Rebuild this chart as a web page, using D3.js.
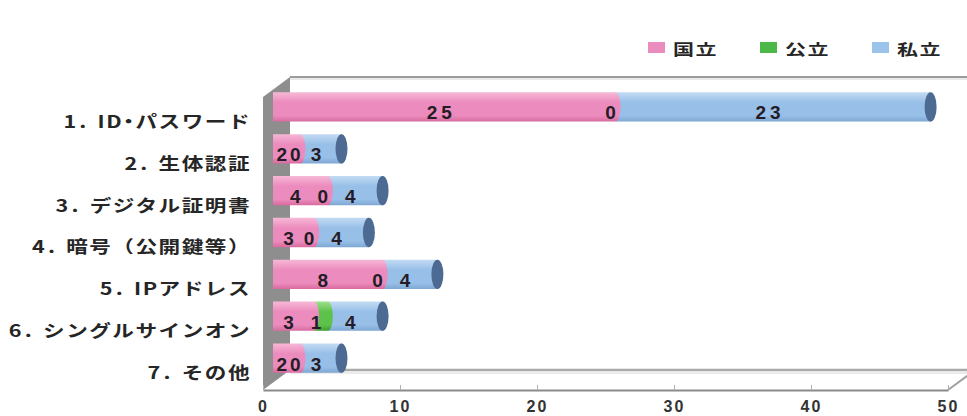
<!DOCTYPE html>
<html>
<head>
<meta charset="utf-8">
<script src="https://cdn.jsdelivr.net/npm/d3@7"></script>
<style>
  html, body { margin: 0; padding: 0; background: #ffffff; }
  svg { display: block; }
  .palt { font-feature-settings: "palt" 1; }
</style>
</head>
<body>
<svg id="chart" width="967" height="416"></svg>
<script>
// 認証方式の利用状況（設置者別の件数）
const categories = [
  "1. ID・パスワード",
  "2. 生体認証",
  "3. デジタル証明書",
  "4. 暗号（公開鍵等）",
  "5. IPアドレス",
  "6. シングルサインオン",
  "7. その他"
];
const seriesNames = ["国立", "公立", "私立"];
const national = [25, 2, 4, 3, 8, 3, 2];
const publicInst = [0, 0, 0, 0, 0, 1, 0];
const privateInst = [23, 3, 4, 4, 4, 4, 3];
const tickValues = [0, 10, 20, 30, 40, 50];

const seriesColors = {
  "国立": { light: "#f6b8d6", mid: "#ec8bbd", dark: "#d86a9f", legend: "#ea8cbe", cap: "#b45a86" },
  "公立": { light: "#9ee08a", mid: "#5cc24a", dark: "#3c9a32", legend: "#4cb848", cap: "#2f7a28" },
  "私立": { light: "#c3dbf3", mid: "#97bfe8", dark: "#7ea7d3", legend: "#9cc3ea", cap: "#4c6a92" }
};

const rows = categories.map((c, i) => ({
  category: c,
  "国立": national[i],
  "公立": publicInst[i],
  "私立": privateInst[i]
}));

const svg = d3.select("#chart");
const defs = svg.append("defs");

// front plane of the 3-D box
const x = d3.scaleLinear().domain([0, 50]).range([263, 948]);
const floorY = 390;
const depth = { dx: 27, dy: -20 };     // front -> back wall offset
const barShift = 10;                   // bars sit part-way into the box
const y = d3.scaleBand().domain(categories).range([86, 379])
  .paddingInner(0.3).paddingOuter(0.15);

// gradients for the cylinder bodies
seriesNames.forEach((s, i) => {
  const g = defs.append("linearGradient").attr("id", "grad" + i)
    .attr("x1", 0).attr("y1", 0).attr("x2", 0).attr("y2", 1);
  const c = seriesColors[s];
  g.append("stop").attr("offset", "0%").attr("stop-color", c.light);
  g.append("stop").attr("offset", "35%").attr("stop-color", c.mid);
  g.append("stop").attr("offset", "80%").attr("stop-color", c.mid);
  g.append("stop").attr("offset", "100%").attr("stop-color", c.dark);
});

// ---- box: floor, left wall, back edge ----
const backX0 = x(0) + depth.dx;
const backX1 = x(50) + depth.dx;
const backFloorY = floorY + depth.dy;
const topY = 77;

svg.append("polygon")
  .attr("points", [[x(0), floorY], [x(50), floorY], [backX1, backFloorY], [backX0, backFloorY]].join(" "))
  .attr("fill", "#ffffff");

svg.append("line")
  .attr("x1", backX0).attr("y1", topY).attr("x2", 980).attr("y2", topY)
  .attr("stroke", "#9c9c9c").attr("stroke-width", 2);
svg.append("line")
  .attr("x1", backX0).attr("y1", topY + 2).attr("x2", 980).attr("y2", topY + 2)
  .attr("stroke", "#e2e2e2").attr("stroke-width", 1.5);

svg.append("line")
  .attr("x1", backX0).attr("y1", backFloorY).attr("x2", backX1).attr("y2", backFloorY)
  .attr("stroke", "#a9a9a9").attr("stroke-width", 2.5);
svg.append("line")
  .attr("x1", backX0).attr("y1", backFloorY + 3).attr("x2", backX1).attr("y2", backFloorY + 3)
  .attr("stroke", "#e4e4e4").attr("stroke-width", 1.5);
svg.append("line")
  .attr("x1", x(50)).attr("y1", floorY).attr("x2", backX1).attr("y2", backFloorY)
  .attr("stroke", "#a0a0a0").attr("stroke-width", 2);

svg.append("polygon")
  .attr("points", [[x(0), topY - depth.dy], [backX0, topY], [backX0, backFloorY], [x(0), floorY]].join(" "))
  .attr("fill", "#8e8e8e");

// ---- stacked cylinders ----
const stack = d3.stack().keys(seriesNames);
const layers = stack(rows);
const rx = 5;
const xb = v => x(v) + barShift;

const bars = svg.append("g");
categories.forEach((cat, ci) => {
  const top = y(cat);
  const h = y.bandwidth();
  const g = bars.append("g");
  // right-most segment first so each boundary bulges over its neighbour
  for (let si = seriesNames.length - 1; si >= 0; si--) {
    const seg = layers[si][ci];
    if (seg[1] - seg[0] <= 0) continue;
    const x0 = xb(seg[0]), x1 = xb(seg[1]);
    g.append("path")
      .attr("d", `M${x0},${top} L${x1},${top} A${rx},${h / 2} 0 0 1 ${x1},${top + h} L${x0},${top + h} Z`)
      .attr("fill", `url(#grad${si})`);
  }
  // visible end face of the cylinder
  let lastSi = seriesNames.length - 1;
  while (lastSi > 0 && layers[lastSi][ci][1] - layers[lastSi][ci][0] <= 0) lastSi--;
  const end = layers[lastSi][ci][1];
  g.append("ellipse")
    .attr("cx", xb(end)).attr("cy", top + h / 2)
    .attr("rx", rx + 1).attr("ry", h / 2)
    .attr("fill", seriesColors[seriesNames[lastSi]].cap);
});

// value labels
const labels = svg.append("g")
  .attr("font-family", "'Liberation Sans', Arial, sans-serif")
  .attr("font-weight", "bold")
  .attr("font-size", 19)
  .attr("fill", "#241c26")
  .attr("text-anchor", "middle")
  .attr("letter-spacing", 4);
categories.forEach((cat, ci) => {
  seriesNames.forEach((s, si) => {
    const seg = layers[si][ci];
    const v = seg[1] - seg[0];
    labels.append("text")
      .attr("x", x((seg[0] + seg[1]) / 2) + 5 + 2)
      .attr("y", y(cat) + y.bandwidth() / 2 + 6)
      .attr("dominant-baseline", "central")
      .text(v);
  });
});

// ---- value axis on the front edge ----
const axis = d3.axisBottom(x).tickValues(tickValues)
  .tickSizeInner(-5).tickSizeOuter(0).tickPadding(11);
const ax = svg.append("g").attr("transform", `translate(0,${floorY})`).call(axis);
ax.select(".domain").attr("stroke", "#8a8a8a").attr("stroke-width", 2);
ax.selectAll(".tick line").attr("stroke", "#b0b0b0");
ax.selectAll(".tick text")
  .attr("font-family", "'Liberation Sans', Arial, sans-serif")
  .attr("font-weight", "bold")
  .attr("font-size", 16)
  .attr("letter-spacing", 2)
  .attr("fill", "#333333");

// ---- category labels ----
// number prefix set a little wider; the middle dot kept proportional
const catG = svg.append("g");
categories.forEach(cat => {
  const m = cat.match(/^(\d+\.\s)(.*)$/);
  const t = catG.append("text")
    .attr("transform", `translate(251,${y(cat) + y.bandwidth() / 2 + 13}) scale(1.27,1)`)
    .attr("text-anchor", "end")
    .attr("dominant-baseline", "central")
    .attr("font-family", "'Noto Sans CJK JP', sans-serif")
    .attr("font-weight", "bold")
    .attr("font-size", 17)
    .attr("letter-spacing", 1.2)
    .attr("fill", "#262626");
  t.append("tspan").attr("letter-spacing", 2.5).text(m[1]);
  let run = "";
  const flush = () => { if (run) { t.append("tspan").text(run); run = ""; } };
  for (const ch of m[2]) {
    if (ch === "・") {
      flush();
      t.append("tspan").attr("class", "palt").text(ch);
    } else {
      run += ch;
    }
  }
  flush();
});

// ---- legend ----
const legend = svg.append("g");
seriesNames.forEach((s, i) => {
  const lx = 648 + i * 112;
  legend.append("rect")
    .attr("x", lx).attr("y", 42).attr("width", 17).attr("height", 11)
    .attr("fill", seriesColors[s].legend);
  legend.append("text")
    .attr("transform", `translate(${lx + 25},48) scale(1.4,1)`)
    .attr("dominant-baseline", "central")
    .attr("font-family", "'Noto Sans CJK JP', sans-serif")
    .attr("font-weight", "bold")
    .attr("font-size", 15)
    .attr("letter-spacing", 1)
    .attr("fill", "#262626")
    .text(s);
});
</script>
</body>
</html>
